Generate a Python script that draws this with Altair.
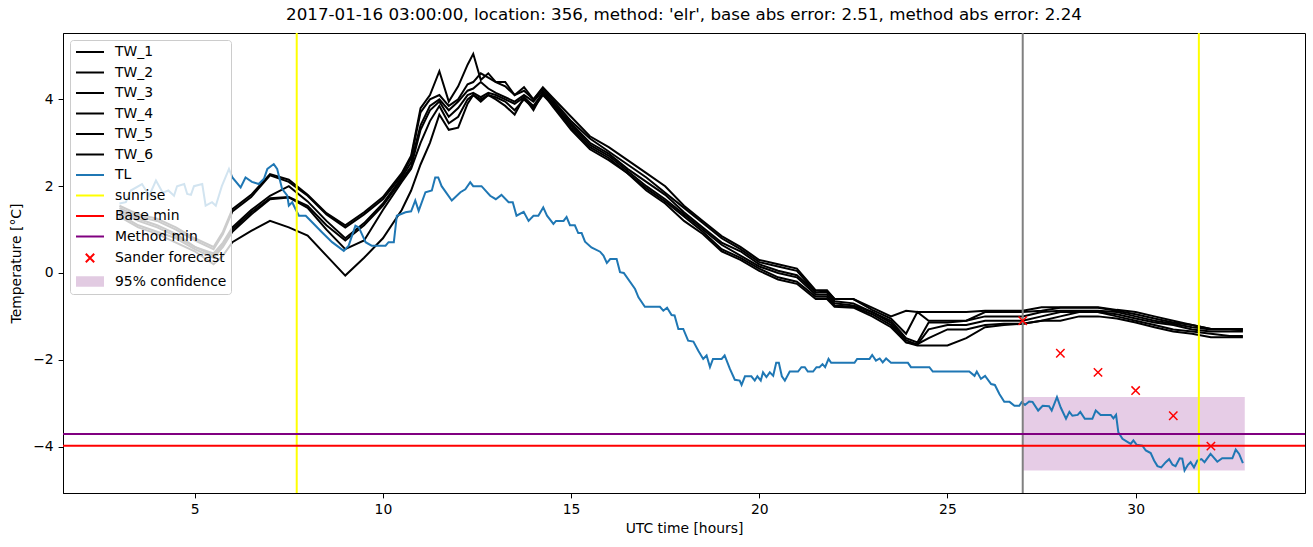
import altair as alt
import pandas as pd

TITLE = "2017-01-16 03:00:00, location: 356, method: 'elr', base abs error: 2.51, method abs error: 2.24"

# ---------------- data ----------------
TL_HOURS = [3.0, 3.17, 3.3, 3.6, 3.79, 3.97, 4.15, 4.3, 4.45, 4.53, 4.72, 4.8, 4.9, 4.98, 5.2,
            5.29, 5.46, 5.56, 5.72, 5.91, 6.0, 6.22, 6.35, 6.52, 6.7, 6.84, 6.93, 7.1, 7.19, 7.32,
            7.46, 7.5, 7.59, 7.68, 7.77, 7.95, 8.12, 8.38, 8.65, 8.96, 9.09, 9.27, 9.36, 9.54, 9.7,
            10.07, 10.15, 10.29, 10.37, 10.6, 10.75, 10.86, 10.95, 11.13, 11.3, 11.39, 11.47, 11.56,
            11.83, 12.06, 12.19, 12.32, 12.4, 12.62, 12.85, 13.0, 13.15, 13.34, 13.45, 13.55, 13.74,
            13.87, 14.0, 14.13, 14.26, 14.36, 14.53, 14.6, 14.8, 14.88, 14.97, 15.1, 15.19, 15.28,
            15.37, 15.54, 15.77, 15.86, 15.95, 16.04, 16.21, 16.3, 16.4, 16.7, 16.79, 16.96, 17.36,
            17.45, 17.55, 17.67, 17.75, 17.85, 17.98, 18.11, 18.25, 18.38, 18.51, 18.6, 18.69, 18.77,
            19.0, 19.08, 19.22, 19.35, 19.48, 19.53, 19.62, 19.79, 19.88, 19.95, 20.04, 20.1, 20.19,
            20.28, 20.37, 20.45, 20.52, 20.6, 20.68, 20.81, 21.03, 21.12, 21.21, 21.29, 21.43, 21.52,
            21.6, 21.68, 21.75, 21.84, 21.91, 22.53, 22.6, 22.93, 23.0, 23.1, 23.2, 23.28, 23.37,
            23.5, 23.95, 24.03, 24.52, 24.61, 25.58, 25.72, 25.78, 25.89, 26.0, 26.16, 26.26, 26.38,
            26.51, 26.65, 26.78, 26.91, 26.97, 27.06, 27.17, 27.26, 27.41, 27.53, 27.7, 27.77, 27.91,
            28.01, 28.15, 28.24, 28.32, 28.46, 28.53, 28.65, 28.85, 28.94, 29.07, 29.34, 29.41, 29.48,
            29.54, 29.65, 29.78, 29.87, 29.94, 30.03, 30.18, 30.27, 30.4, 30.49, 30.58, 30.68, 30.8,
            30.89, 30.98, 31.06, 31.17, 31.24, 31.3, 31.39, 31.46, 31.55, 31.64, 31.75, 31.83, 31.99,
            32.17, 32.3, 32.57, 32.66, 32.75, 32.85]
TL_TEMPS = [1.6, 1.63, 1.9, 2.05, 1.78, 2.13, 1.85, 1.9, 1.78, 2.0, 2.05, 1.82, 1.8, 2.0, 2.05,
            1.55, 1.63, 1.55, 2.0, 2.4, 2.2, 1.97, 2.2, 2.1, 2.05, 2.17, 2.4, 2.51, 2.4, 1.94,
            1.78, 1.55, 1.63, 1.47, 1.32, 1.32, 1.17, 0.94, 0.71, 0.51, 0.63, 1.09, 1.05, 0.71, 0.63,
            0.63, 0.71, 0.71, 1.32, 1.4, 1.42, 1.67, 1.43, 1.86, 1.9, 2.2, 2.2, 2.0,
            1.67, 1.86, 1.93, 2.09, 2.0, 2.0, 1.78, 1.7, 1.8, 1.63, 1.63, 1.32, 1.41,
            1.2, 1.32, 1.32, 1.51, 1.32, 1.13, 1.2, 1.2, 1.29, 1.1, 1.1, 0.92, 0.92,
            0.72, 0.59, 0.49, 0.4, 0.23, 0.32, 0.32, 0.02, 0.0, -0.37, -0.56, -0.78, -0.78,
            -0.87, -0.8, -0.97, -0.98, -1.29, -1.29, -1.56, -1.58, -1.79, -1.98, -1.9, -2.17, -1.98,
            -1.98, -1.9, -2.21, -2.46, -2.48, -2.58, -2.38, -2.38, -2.48, -2.38, -2.48, -2.29, -2.4,
            -2.29, -2.37, -2.07, -2.07, -2.38, -2.48, -2.27, -2.27, -2.17, -2.17, -2.27, -2.27, -2.17,
            -2.17, -2.1, -2.17, -1.98, -2.07, -2.07, -1.98, -1.98, -1.89, -2.02, -1.97, -2.06, -1.97,
            -2.07, -2.07, -2.17, -2.17, -2.27, -2.27, -2.37, -2.27, -2.44, -2.37, -2.56, -2.58, -2.79,
            -2.97, -2.97, -3.06, -3.06, -2.98, -3.04, -2.96, -2.97, -3.17, -3.06, -3.07, -3.17, -2.86,
            -3.1, -3.36, -3.2, -3.29, -3.27, -3.2, -3.36, -3.36, -3.17, -3.27, -3.27, -3.35, -3.27,
            -3.67, -3.82, -3.89, -3.94, -3.86, -3.96, -3.98, -4.09, -4.15, -4.32, -4.45, -4.48, -4.36,
            -4.29, -4.42, -4.45, -4.27, -4.28, -4.55, -4.42, -4.36, -4.48, -4.32, -4.29, -4.36, -4.17,
            -4.35, -4.27, -4.27, -4.07, -4.17, -4.38]

TW_HOURS = [3.0, 3.5, 4.0, 4.5, 5.0, 5.5, 5.75, 6.0, 6.5, 7.0, 7.5, 8.0, 8.5, 9.0, 9.5, 10.0,
            10.5, 10.75, 11.0, 11.25, 11.5, 11.75, 12.0, 12.25, 12.4, 12.6, 12.8, 13.0, 13.25,
            13.5, 13.75, 14.0, 14.25, 14.5, 15.0, 15.5, 16.0, 16.5, 17.0, 17.5, 18.0, 18.5, 19.0,
            19.5, 20.0, 20.5, 21.0, 21.5, 21.8, 22.0, 22.5, 23.0, 23.5, 23.9, 24.2, 24.5, 25.0,
            25.5, 26.0, 26.5, 27.0, 27.5, 28.0, 28.5, 29.0, 29.5, 30.0, 30.5, 31.0, 31.5, 32.0,
            32.5, 32.85]
TW_1 = [1.55, 1.35, 1.25, 1.05, 0.8, 0.6, 0.95, 1.47, 1.8, 2.28, 2.15, 1.8, 1.38, 1.1, 1.4, 1.75,
        2.3, 2.7, 3.8, 4.1, 4.65, 3.95, 4.3, 4.8, 5.05, 4.45, 4.6, 4.4, 4.4,
        4.1, 4.28, 4.0, 4.28, 4.05, 3.6, 3.15, 2.9, 2.6, 2.3, 2.0, 1.55, 1.2, 0.85,
        0.6, 0.3, 0.2, 0.1, -0.4, -0.4, -0.6, -0.6, -0.8, -1.0, -0.87, -0.9, -0.9, -0.9,
        -0.9, -0.87, -0.87, -0.87, -0.79, -0.79, -0.79, -0.79, -0.85, -0.9, -1.0, -1.1, -1.2, -1.29,
        -1.29, -1.29]
TW_2 = [1.5, 1.3, 1.2, 1.0, 0.75, 0.55, 0.9, 1.42, 1.75, 2.25, 2.1, 1.78, 1.35, 1.05, 1.35, 1.7,
        2.25, 2.65, 3.7, 4.0, 4.1, 3.85, 4.0, 4.35, 4.4, 4.6, 4.5, 4.4, 4.3,
        4.1, 4.2, 4.0, 4.25, 4.0, 3.5, 3.1, 2.8, 2.5, 2.2, 1.85, 1.5, 1.15, 0.8,
        0.55, 0.25, 0.15, 0.05, -0.45, -0.42, -0.6, -0.6, -0.85, -1.05, -1.4, -0.9, -1.1, -1.1,
        -1.1, -0.9, -0.9, -0.9, -0.87, -0.8, -0.8, -0.8, -0.87, -0.95, -1.05, -1.14, -1.2, -1.29,
        -1.29, -1.3]
TW_3 = [1.45, 1.25, 1.1, 0.9, 0.6, 0.45, 0.7, 1.05, 1.45, 1.78, 2.0, 1.65, 1.2, 0.8, 1.15, 1.6,
        2.2, 2.55, 3.4, 3.85, 4.0, 3.75, 3.95, 4.2, 4.25, 4.4, 4.25, 4.15, 4.05,
        3.95, 4.1, 3.95, 4.2, 3.95, 3.45, 3.0, 2.75, 2.4, 2.1, 1.8, 1.4, 1.05, 0.7,
        0.5, 0.2, 0.05, -0.05, -0.45, -0.45, -0.65, -0.7, -0.9, -1.1, -1.5, -1.6, -1.14, -1.14,
        -1.1, -1.0, -1.0, -1.0, -0.9, -0.87, -0.87, -0.87, -0.9, -1.0, -1.1, -1.17, -1.25, -1.3,
        -1.3, -1.32]
TW_4 = [1.4, 1.2, 1.05, 0.85, 0.6, 0.4, 0.65, 1.0, 1.4, 1.72, 1.75, 1.55, 1.1, 0.75, 1.1, 1.55,
        2.15, 2.45, 3.3, 3.75, 3.95, 3.6, 3.8, 4.1, 4.15, 4.05, 4.15, 4.1, 4.0,
        3.9, 4.05, 3.85, 4.15, 3.9, 3.4, 2.95, 2.7, 2.35, 2.0, 1.7, 1.35, 1.0, 0.65,
        0.4, 0.15, 0.0, -0.1, -0.5, -0.5, -0.7, -0.75, -0.9, -1.15, -1.55, -1.65, -1.3, -1.2,
        -1.2, -1.1, -1.1, -1.1, -1.0, -0.9, -0.9, -0.9, -0.95, -1.05, -1.14, -1.2, -1.3, -1.35,
        -1.35, -1.35]
TW_5 = [1.35, 1.1, 0.95, 0.8, 0.55, 0.35, 0.6, 0.95, 1.35, 1.7, 1.74, 1.5, 1.0, 0.55, 0.75, 1.45,
        2.1, 2.4, 3.0, 3.5, 3.85, 3.45, 3.6, 4.0, 4.1, 4.0, 4.1, 4.05, 3.95,
        3.75, 4.0, 3.8, 4.1, 3.88, 3.35, 2.9, 2.65, 2.3, 1.95, 1.65, 1.3, 0.95, 0.55,
        0.35, 0.1, -0.1, -0.2, -0.55, -0.55, -0.75, -0.78, -0.95, -1.2, -1.6, -1.64, -1.5, -1.3,
        -1.3, -1.2, -1.17, -1.17, -1.1, -1.0, -0.9, -0.9, -1.0, -1.1, -1.2, -1.3, -1.35, -1.4,
        -1.45, -1.45]
TW_6 = [1.3, 1.05, 0.9, 0.7, 0.5, 0.2, 0.4, 0.71, 0.97, 1.2, 1.05, 0.86, 0.4, -0.06, 0.35, 0.8,
        1.45, 1.9, 2.5, 3.0, 3.65, 3.3, 3.35, 3.9, 4.1, 3.95, 4.1, 4.0, 3.85,
        3.65, 4.05, 3.75, 4.15, 3.85, 3.3, 2.85, 2.6, 2.3, 1.9, 1.6, 1.2, 0.9, 0.5,
        0.3, 0.05, -0.15, -0.25, -0.6, -0.6, -0.78, -0.8, -1.0, -1.25, -1.6, -1.67, -1.67, -1.67,
        -1.5, -1.25, -1.2, -1.17, -1.1, -1.1, -1.0, -1.0, -1.05, -1.14, -1.25, -1.35, -1.4, -1.48,
        -1.48, -1.48]
TW_SERIES = {"TW_1": TW_1, "TW_2": TW_2, "TW_3": TW_3, "TW_4": TW_4, "TW_5": TW_5, "TW_6": TW_6}

SUNRISE_HOURS = [7.71, 31.68]
FORECAST_START_HOURS = [27.0]
BASE_MIN = [-3.98]
METHOD_MIN = [-3.71]
SANDER_HOURS = [27.0, 28.0, 29.0, 30.0, 31.0, 32.0]
SANDER_TEMPS = [-1.1, -1.85, -2.29, -2.71, -3.29, -3.99]
CONF_HOURS = [27.0, 32.9]
CONF_TEMPS = [-2.86, -4.55]

X_TICKS = [5, 10, 15, 20, 25, 30]
Y_TICKS = [-4, -2, 0, 2, 4]

LEGEND_LABELS = ["TW_1", "TW_2", "TW_3", "TW_4", "TW_5", "TW_6", "TL", "sunrise",
                 "Base min", "Method min", "Sander forecast", "95% confidence"]

# ---------------- styles ----------------
FONT = "DejaVu Sans"
LINE_SHAPE = "M-2,0L2,0"
CROSS_SHAPE = "M-0.6,-0.6L0.6,0.6M0.6,-0.6L-0.6,0.6"
PATCH_SHAPE = ("M-2,-0.6L2,-0.6M-2,-0.4L2,-0.4M-2,-0.2L2,-0.2M-2,0L2,0"
               "M-2,0.2L2,0.2M-2,0.4L2,0.4M-2,0.6L2,0.6")
LEGEND_COLORS = ["black"] * 6 + ["#1f77b4", "yellow", "red", "purple", "red", "#e2cbe2"]
LEGEND_SHAPES = [LINE_SHAPE] * 10 + [CROSS_SHAPE, PATCH_SHAPE]
MARKER_X = "M-1,-1L1,1M1,-1L-1,1"

XSCALE = alt.Scale(domain=[1.5, 34.5], nice=False, zero=False)
YSCALE = alt.Scale(domain=[-5.07, 5.53], nice=False, zero=False)
XAXIS = alt.Axis(values=X_TICKS, grid=False, titlePadding=5)
YAXIS = alt.Axis(values=Y_TICKS, grid=False, titlePadding=9)
XTITLE = "UTC time [hours]"
YTITLE = "Temperature [°C]"


def xenc(field):
    return alt.X(f"{field}:Q", scale=XSCALE, axis=XAXIS, title=XTITLE)


def yenc(field):
    return alt.Y(f"{field}:Q", scale=YSCALE, axis=YAXIS, title=YTITLE)


# ---------------- tables ----------------
tw_rows = []
for name, vals in TW_SERIES.items():
    for h, v in zip(TW_HOURS, vals):
        tw_rows.append({"hour": h, "temp": v, "series": name})
tw_df = pd.DataFrame(tw_rows)
tl_df = pd.DataFrame({"hour": TL_HOURS, "temp": TL_TEMPS})
sun_df = pd.DataFrame({"hour": SUNRISE_HOURS})
start_df = pd.DataFrame({"hour": FORECAST_START_HOURS})
base_df = pd.DataFrame({"temp": BASE_MIN})
method_df = pd.DataFrame({"temp": METHOD_MIN})
sander_df = pd.DataFrame({"hour": SANDER_HOURS, "temp": SANDER_TEMPS})
conf_df = pd.DataFrame({"h0": [CONF_HOURS[0]], "h1": [CONF_HOURS[1]],
                        "t0": [CONF_TEMPS[0]], "t1": [CONF_TEMPS[1]]})
legend_df = pd.DataFrame({"series": LEGEND_LABELS})

# ---------------- layers ----------------
band = alt.Chart(conf_df).mark_rect(color="purple", opacity=0.2).encode(
    x=xenc("h0"), x2="h1:Q", y=yenc("t0"), y2="t1:Q")

tw = alt.Chart(tw_df).mark_line(color="black", strokeWidth=2, clip=True).encode(
    x=xenc("hour"), y=yenc("temp"), detail="series:N")

tl = alt.Chart(tl_df).mark_line(color="#1f77b4", strokeWidth=2, clip=True).encode(
    x=xenc("hour"), y=yenc("temp"))

sun = alt.Chart(sun_df).mark_rule(color="yellow", strokeWidth=2).encode(x=xenc("hour"))
start = alt.Chart(start_df).mark_rule(color="gray", strokeWidth=2).encode(x=xenc("hour"))
base = alt.Chart(base_df).mark_rule(color="red", strokeWidth=2).encode(y=yenc("temp"))
method = alt.Chart(method_df).mark_rule(color="purple", strokeWidth=2).encode(y=yenc("temp"))

sander = alt.Chart(sander_df).mark_point(
    shape=MARKER_X, filled=False, color="red", size=70, strokeWidth=1.5, opacity=1
).encode(x=xenc("hour"), y=yenc("temp"))

LEGEND = alt.Legend(
    title=None, orient="top-left", offset=7, padding=4,
    fillColor="rgba(255,255,255,0.8)", strokeColor="#cccccc", cornerRadius=3,
    labelFont=FONT, labelFontSize=13.9, labelColor="black", labelLimit=300,
    symbolSize=196, symbolStrokeWidth=2, symbolOffset=8, labelOffset=17,
    rowPadding=5.5, symbolOpacity=1,
)

legend_layer = alt.Chart(legend_df).transform_filter("false").mark_point(
    filled=False, size=196, strokeWidth=2, opacity=1
).encode(
    color=alt.Color("series:N", scale=alt.Scale(domain=LEGEND_LABELS, range=LEGEND_COLORS),
                    legend=LEGEND),
    shape=alt.Shape("series:N", scale=alt.Scale(domain=LEGEND_LABELS, range=LEGEND_SHAPES),
                    legend=LEGEND),
)

chart = alt.layer(band, tw, tl, sun, start, base, method, sander, legend_layer).properties(
    width=1242, height=460,
    title=alt.TitleParams(TITLE, fontSize=16.7, font=FONT, fontWeight="normal",
                          color="black", offset=8, anchor="middle"),
    padding={"left": 63, "top": 33, "right": 8, "bottom": 54},
    autosize=alt.AutoSizeParams(type="none"),
).configure_view(stroke="black", strokeWidth=1).configure_axis(
    domainColor="black", tickColor="black", tickSize=4.9, labelPadding=4.9,
    labelFont=FONT, labelFontSize=13.9, labelColor="black",
    titleFont=FONT, titleFontSize=13.9, titleFontWeight="normal", titleColor="black",
)

chart.save("out.html", embed_options={"renderer": "svg", "actions": False})
